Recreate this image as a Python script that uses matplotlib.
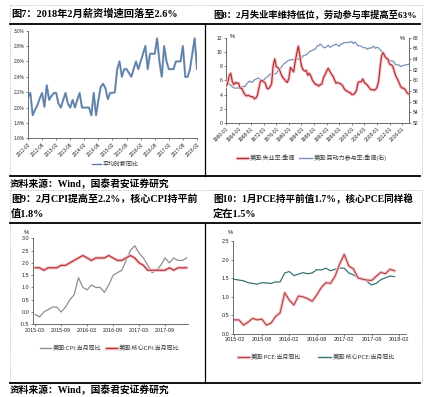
import numpy as np
import matplotlib
matplotlib.use('Agg')
import matplotlib.pyplot as plt
from matplotlib.lines import Line2D
import matplotlib.patheffects as pe

# ---------------- data ----------------
# Fig 7: wage growth, monthly 2012-02 .. 2018-02
wage_ticklabels = ['2012-02', '2012-08', '2013-02', '2013-08', '2014-02', '2014-08', '2015-02',
                   '2015-08', '2016-02', '2016-08', '2017-02', '2017-08', '2018-02']
wage = [2.14, 2.19, 1.90, 1.97, 2.03, 2.12, 2.19, 2.01, 2.29, 2.10,
        2.15, 2.19, 2.19, 2.05, 2.00, 2.10, 2.19, 2.05, 2.00, 2.10,
        2.00, 2.10, 2.19, 2.00, 2.00, 2.00, 2.00, 1.90, 2.19, 1.90,
        2.10, 2.27, 2.31, 2.25, 2.11, 2.19, 2.19, 2.20, 2.50, 2.60,
        2.40, 2.50, 2.50, 2.45, 2.40, 2.50, 2.60, 2.50, 2.60, 2.70,
        2.80, 2.50, 2.70, 2.70, 2.70, 2.90, 2.60, 2.40, 2.80, 2.60,
        2.50, 2.50, 2.50, 2.60, 2.60, 2.60, 2.80, 2.40, 2.40, 2.50,
        2.70, 2.90, 2.50]
wage_yticks = [1.6, 1.8, 2.0, 2.2, 2.4, 2.6, 2.8, 3.0]

# Fig 8: unemployment & participation, semiannual 1960.0 .. 2018.0
labor_years = np.arange(1960.0, 2018.01, 0.5)
unemp = [5.2, 5.5, 6.6, 7.0, 5.8, 5.4, 5.7, 5.6, 5.6, 4.9,
         4.9, 4.4, 4.0, 3.8, 3.9, 3.8, 3.7, 3.7, 3.4, 3.5,
         3.9, 5.0, 5.9, 6.0, 5.8, 5.6, 4.9, 4.8, 5.1, 5.5,
         8.1, 9.0, 7.9, 7.8, 7.5, 6.9, 6.4, 6.2, 5.9, 5.7,
         6.3, 7.8, 7.5, 7.2, 8.6, 9.8, 10.8, 9.4, 8.0, 7.5,
         7.3, 7.4, 6.7, 7.0, 6.6, 6.0, 5.7, 5.4, 5.4, 5.2,
         5.4, 5.5, 6.4, 6.8, 7.3, 7.7, 7.3, 6.9, 6.6, 6.1,
         5.6, 5.7, 5.6, 5.5, 5.3, 4.9, 4.6, 4.5, 4.3, 4.3,
         4.0, 4.0, 4.2, 4.6, 5.7, 5.8, 5.8, 6.2, 5.7, 5.5,
         5.3, 5.0, 4.7, 4.7, 4.6, 4.7, 5.0, 5.8, 7.8, 9.5,
         9.9, 9.4, 9.1, 9.0, 8.3, 8.2, 8.0, 7.3, 6.6, 6.2,
         5.7, 5.2, 4.9, 4.9, 4.7, 4.3, 4.1]
partic = [59.1, 59.5, 59.3, 59.1, 58.8, 58.6, 58.5, 58.6, 58.5, 58.7,
          58.7, 58.9, 58.8, 59.3, 59.6, 59.9, 59.6, 59.7, 60.1, 60.2,
          60.4, 60.4, 60.0, 60.2, 60.0, 60.4, 60.6, 60.8, 61.2, 61.3,
          61.2, 61.2, 61.3, 61.8, 61.8, 62.4, 62.8, 63.2, 63.3, 63.6,
          63.8, 63.8, 63.9, 63.9, 63.7, 64.1, 63.9, 64.2, 64.1, 64.6,
          64.7, 64.8, 65.0, 65.4, 65.5, 65.6, 65.8, 65.9, 66.5, 66.5,
          66.8, 66.5, 66.2, 66.1, 66.3, 66.6, 66.2, 66.3, 66.6, 66.6,
          66.8, 66.6, 66.4, 66.8, 66.8, 67.1, 67.1, 67.0, 67.2, 67.1,
          67.3, 66.9, 67.2, 66.8, 66.5, 66.5, 66.4, 66.2, 66.1, 66.1,
          65.8, 66.1, 66.0, 66.2, 66.4, 66.0, 66.2, 66.1, 65.7, 65.5,
          64.8, 64.6, 64.2, 64.0, 63.7, 63.7, 63.6, 63.4, 62.9, 62.9,
          62.9, 62.6, 62.7, 62.8, 62.9, 62.9, 63.0]
labor_tick_years = list(range(1960, 2017, 4))

# Fig 9: CPI, monthly 2015-03 .. 2018-02
cpi_ticklabels = ['2015-03', '2015-09', '2016-03', '2016-09', '2017-03', '2017-09']
cpi = [-0.1, -0.2, 0.0, 0.1, 0.2, 0.2, 0.0, 0.2, 0.5, 0.7,
       1.4, 1.0, 0.9, 1.1, 1.0, 1.0, 0.8, 1.1, 1.5, 1.6,
       1.7, 2.1, 2.5, 2.7, 2.4, 2.2, 1.9, 1.6, 1.7, 1.9,
       2.2, 2.0, 2.2, 2.1, 2.1, 2.2]
core_cpi = [1.8, 1.8, 1.7, 1.8, 1.8, 1.8, 1.9, 1.9, 2.0, 2.1,
            2.2, 2.3, 2.2, 2.1, 2.2, 2.2, 2.2, 2.3, 2.2, 2.1,
            2.1, 2.2, 2.3, 2.2, 2.0, 1.9, 1.7, 1.7, 1.7, 1.7,
            1.7, 1.8, 1.7, 1.8, 1.8, 1.8]

# Fig 10: PCE, monthly 2015-02 .. 2018-01
pce_ticklabels = ['2015-02', '2015-08', '2016-02', '2016-08', '2017-02', '2017-08', '2018-02']
pce = [0.38, 0.38, 0.24, 0.32, 0.42, 0.38, 0.40, 0.24, 0.29, 0.47,
       0.57, 1.11, 0.91, 0.78, 1.02, 1.00, 0.95, 0.88, 1.05, 1.25,
       1.38, 1.36, 1.55, 1.88, 2.14, 1.83, 1.75, 1.51, 1.47, 1.45,
       1.44, 1.55, 1.66, 1.62, 1.74, 1.70]
core_pce = [1.47, 1.45, 1.43, 1.38, 1.36, 1.34, 1.38, 1.37, 1.36, 1.40,
            1.40, 1.64, 1.68, 1.57, 1.61, 1.65, 1.62, 1.64, 1.73, 1.72,
            1.77, 1.70, 1.74, 1.77, 1.77, 1.64, 1.59, 1.52, 1.50, 1.41,
            1.32, 1.36, 1.46, 1.51, 1.56, 1.54]

# ---------------- layout helpers ----------------
W, H = 433, 397
fig = plt.figure(figsize=(W / 100, H / 100), dpi=100)
fig.patch.set_facecolor('white')

TITLE_FONT = ['Liberation Serif', 'Noto Sans CJK SC']
CJK = ['Noto Sans CJK SC', 'DejaVu Sans']
TICK_FONT = ['Liberation Sans', 'DejaVu Sans']


def ax_at(x0, y0, x1, y1):
    return fig.add_axes([x0 / W, 1 - y1 / H, (x1 - x0) / W, (y1 - y0) / H])


def hline(x0, x1, y, lw=1.2, color='black', ls='-'):
    fig.add_artist(Line2D([x0 / W, x1 / W], [1 - y / H, 1 - y / H], lw=lw, color=color,
                          ls=ls, transform=fig.transFigure))


def vline(x, y0, y1, lw=1.0, color='black', ls='-'):
    fig.add_artist(Line2D([x / W, x / W], [1 - y0 / H, 1 - y1 / H], lw=lw, color=color,
                          ls=ls, transform=fig.transFigure))


def ftext(x, y, s, **kw):
    fig.text(x / W, 1 - y / H, s, **kw)


def legend_item(x, y, color, label, glow=None, lw=1.0, seg=11):
    ln = Line2D([x / W, (x + seg) / W], [1 - y / H, 1 - y / H], lw=lw, color=color,
                transform=fig.transFigure)
    if glow:
        ln.set_path_effects([pe.withStroke(linewidth=2.4, foreground=glow)])
    fig.add_artist(ln)
    ftext(x + seg + 1.5, y, label, fontsize=4.3, family=CJK, color='#333333',
          va='center', ha='left')


def style_axis(ax, fs=3.8):
    for s in ['top', 'right']:
        ax.spines[s].set_visible(False)
    for s in ['left', 'bottom']:
        ax.spines[s].set_color('#555555')
        ax.spines[s].set_linewidth(0.6)
    ax.tick_params(axis='both', length=1.5, width=0.5, colors='#555555',
                   labelsize=fs, labelcolor='#222222', pad=1)
    for lab in ax.get_xticklabels() + ax.get_yticklabels():
        lab.set_family(TICK_FONT)
    ax.set_facecolor('none')


# ---------------- frames ----------------
grey = '#b8b8b8'
for (ytop, ybot) in [(5, 176), (190, 383)]:
    hline(10, 422, ytop, lw=0.6, color=grey, ls=(0, (1.5, 1.5)))
    vline(10, ytop, ybot, lw=0.6, color=grey, ls=(0, (1.5, 1.5)))
    vline(422, ytop, ybot, lw=0.6, color=grey, ls=(0, (1.5, 1.5)))

hline(10, 420, 24, lw=1.3)
hline(10, 420, 176, lw=1.3)
vline(205, 24, 176, lw=0.9)
hline(10, 420, 223, lw=1.3)
hline(10, 420, 383, lw=1.3)
vline(205, 223, 383, lw=0.9)

tkw = dict(fontsize=7.4, family=TITLE_FONT, fontweight='bold', va='center', ha='left')
ftext(11, 14, '图7：2018年2月薪资增速回落至2.6%', **tkw)
ftext(213, 14, '图8：2月失业率维持低位，劳动参与率提高至63%', **dict(tkw, fontsize=6.7))
ftext(11, 199, '图9：2月CPI提高至2.2%，核心CPI持平前', **dict(tkw, fontsize=7.2))
ftext(11, 214, '值1.8%', **tkw)
ftext(213, 199, '图10：1月PCE持平前值1.7%，核心PCE同样稳', **dict(tkw, fontsize=6.9))
ftext(213, 214, '定在1.5%', **tkw)
skw = dict(fontsize=7.0, family=TITLE_FONT, fontweight='bold', va='center', ha='left')
ftext(10, 184, '资料来源：Wind，国泰君安证券研究', **skw)
ftext(10, 390, '资料来源：Wind，国泰君安证券研究', **skw)

# ---------------- Fig 7 ----------------
ax7 = ax_at(28, 30.7, 197, 138.3)
x7 = np.arange(len(wage))
ax7.plot(x7, wage, color='#5d7ea6', lw=1.0, solid_joinstyle='round',
         path_effects=[pe.withStroke(linewidth=1.6, foreground='#9fb4cc')])
ax7.set_xlim(0, len(wage) - 1)
ax7.set_ylim(wage_yticks[0], wage_yticks[-1])
ax7.set_yticks(wage_yticks)
ax7.set_yticklabels([f'{v:.1f}%' for v in wage_yticks])
ax7.set_xticks(np.arange(0, len(wage), 6))
ax7.set_xticklabels(wage_ticklabels, rotation=45, ha='right', rotation_mode='anchor')
style_axis(ax7, fs=3.4)
legend_item(92, 164, '#5d7ea6', '平均时薪同比', seg=9)

# ---------------- Fig 8 ----------------
ax8 = ax_at(226, 37.7, 409, 123)
ax8r = ax8.twinx()
ax8.plot(labor_years, unemp, color='#b5333a', lw=0.9, zorder=3,
         path_effects=[pe.withStroke(linewidth=2.4, foreground='#f6c9cc')])
ax8r.plot(labor_years, partic, color='#7892b4', lw=0.9)
ax8.set_zorder(ax8r.get_zorder() + 1)
ax8.set_xlim(1960, 2018.2)
ax8.set_ylim(0, 12)
ax8.set_yticks(np.arange(0, 13, 2))
ax8r.set_ylim(52, 68)
ax8r.set_yticks(np.arange(52, 69, 2))
ax8.set_xticks(labor_tick_years)
ax8.set_xticklabels([f'{y}-01' for y in labor_tick_years], rotation=45, ha='right',
                    rotation_mode='anchor')
style_axis(ax8, fs=3.6)
for s in ['top', 'left', 'bottom']:
    ax8r.spines[s].set_visible(False)
ax8r.spines['right'].set_color('#555555')
ax8r.spines['right'].set_linewidth(0.6)
ax8r.tick_params(axis='y', length=1.5, width=0.5, colors='#555555', labelsize=3.6,
                 labelcolor='#222222', pad=1)
for lab in ax8r.get_yticklabels():
    lab.set_family(TICK_FONT)
ftext(232, 37, '%', fontsize=4.2, family=TICK_FONT, ha='center', va='center')
ftext(402, 39, '%', fontsize=4.2, family=TICK_FONT, ha='center', va='center')
legend_item(237, 158, '#b5333a', '美国:失业率:季调', glow='#f6c9cc')
legend_item(299, 158, '#7892b4', '美国:劳动力参与率:季调(右)', seg=13)

# ---------------- Fig 9 ----------------
ax9 = ax_at(33, 238.3, 188, 324.3)
x9 = np.arange(len(cpi))
ax9.plot(x9, cpi, color='#8b9096', lw=0.9)
ax9.plot(x9, core_cpi, color='#b8343c', lw=0.9,
         path_effects=[pe.withStroke(linewidth=2.4, foreground='#f6c9cc')])
ax9.set_xlim(-0.5, 35.3)
ax9.set_ylim(-0.5, 3.0)
ax9.set_yticks(np.arange(-0.5, 3.01, 0.5))
ax9.set_yticklabels([f'{v:.1f}' for v in np.arange(-0.5, 3.01, 0.5)])
ax9.set_xticks(np.arange(0, 31, 6))
ax9.set_xticklabels(cpi_ticklabels)
style_axis(ax9, fs=3.9)
ftext(26, 232, '%', fontsize=4.2, family=TICK_FONT, ha='center', va='center')
legend_item(40, 348, '#8b9096', '美国:CPI:当月同比')
legend_item(106, 348, '#b8343c', '美国:核心CPI:当月同比', glow='#f6c9cc')

# ---------------- Fig 10 ----------------
ax10 = ax_at(233, 241, 406, 334)
x10 = np.arange(len(pce))
ax10.plot(x10, core_pce, color='#3b7474', lw=0.9)
ax10.plot(x10, pce, color='#b8474c', lw=0.9,
          path_effects=[pe.withStroke(linewidth=2.4, foreground='#f8d0d2')])
ax10.set_xlim(-0.3, 37.5)
ax10.set_ylim(0, 2.5)
ax10.set_yticks(np.arange(0, 2.51, 0.5))
ax10.set_yticklabels([f'{v:.1f}' for v in np.arange(0, 2.51, 0.5)])
ax10.set_xticks(np.arange(0, 37, 6))
ax10.set_xticklabels(pce_ticklabels)
style_axis(ax10, fs=4.0)
ftext(230, 233, '%', fontsize=4.2, family=TICK_FONT, ha='center', va='center')
legend_item(238, 357, '#b8474c', '美国:PCE:当月同比', glow='#f8d0d2')
legend_item(318, 357, '#3b7474', '美国:核心PCE:当月同比', seg=13)

fig.savefig('out.png', dpi=100, facecolor='white')
